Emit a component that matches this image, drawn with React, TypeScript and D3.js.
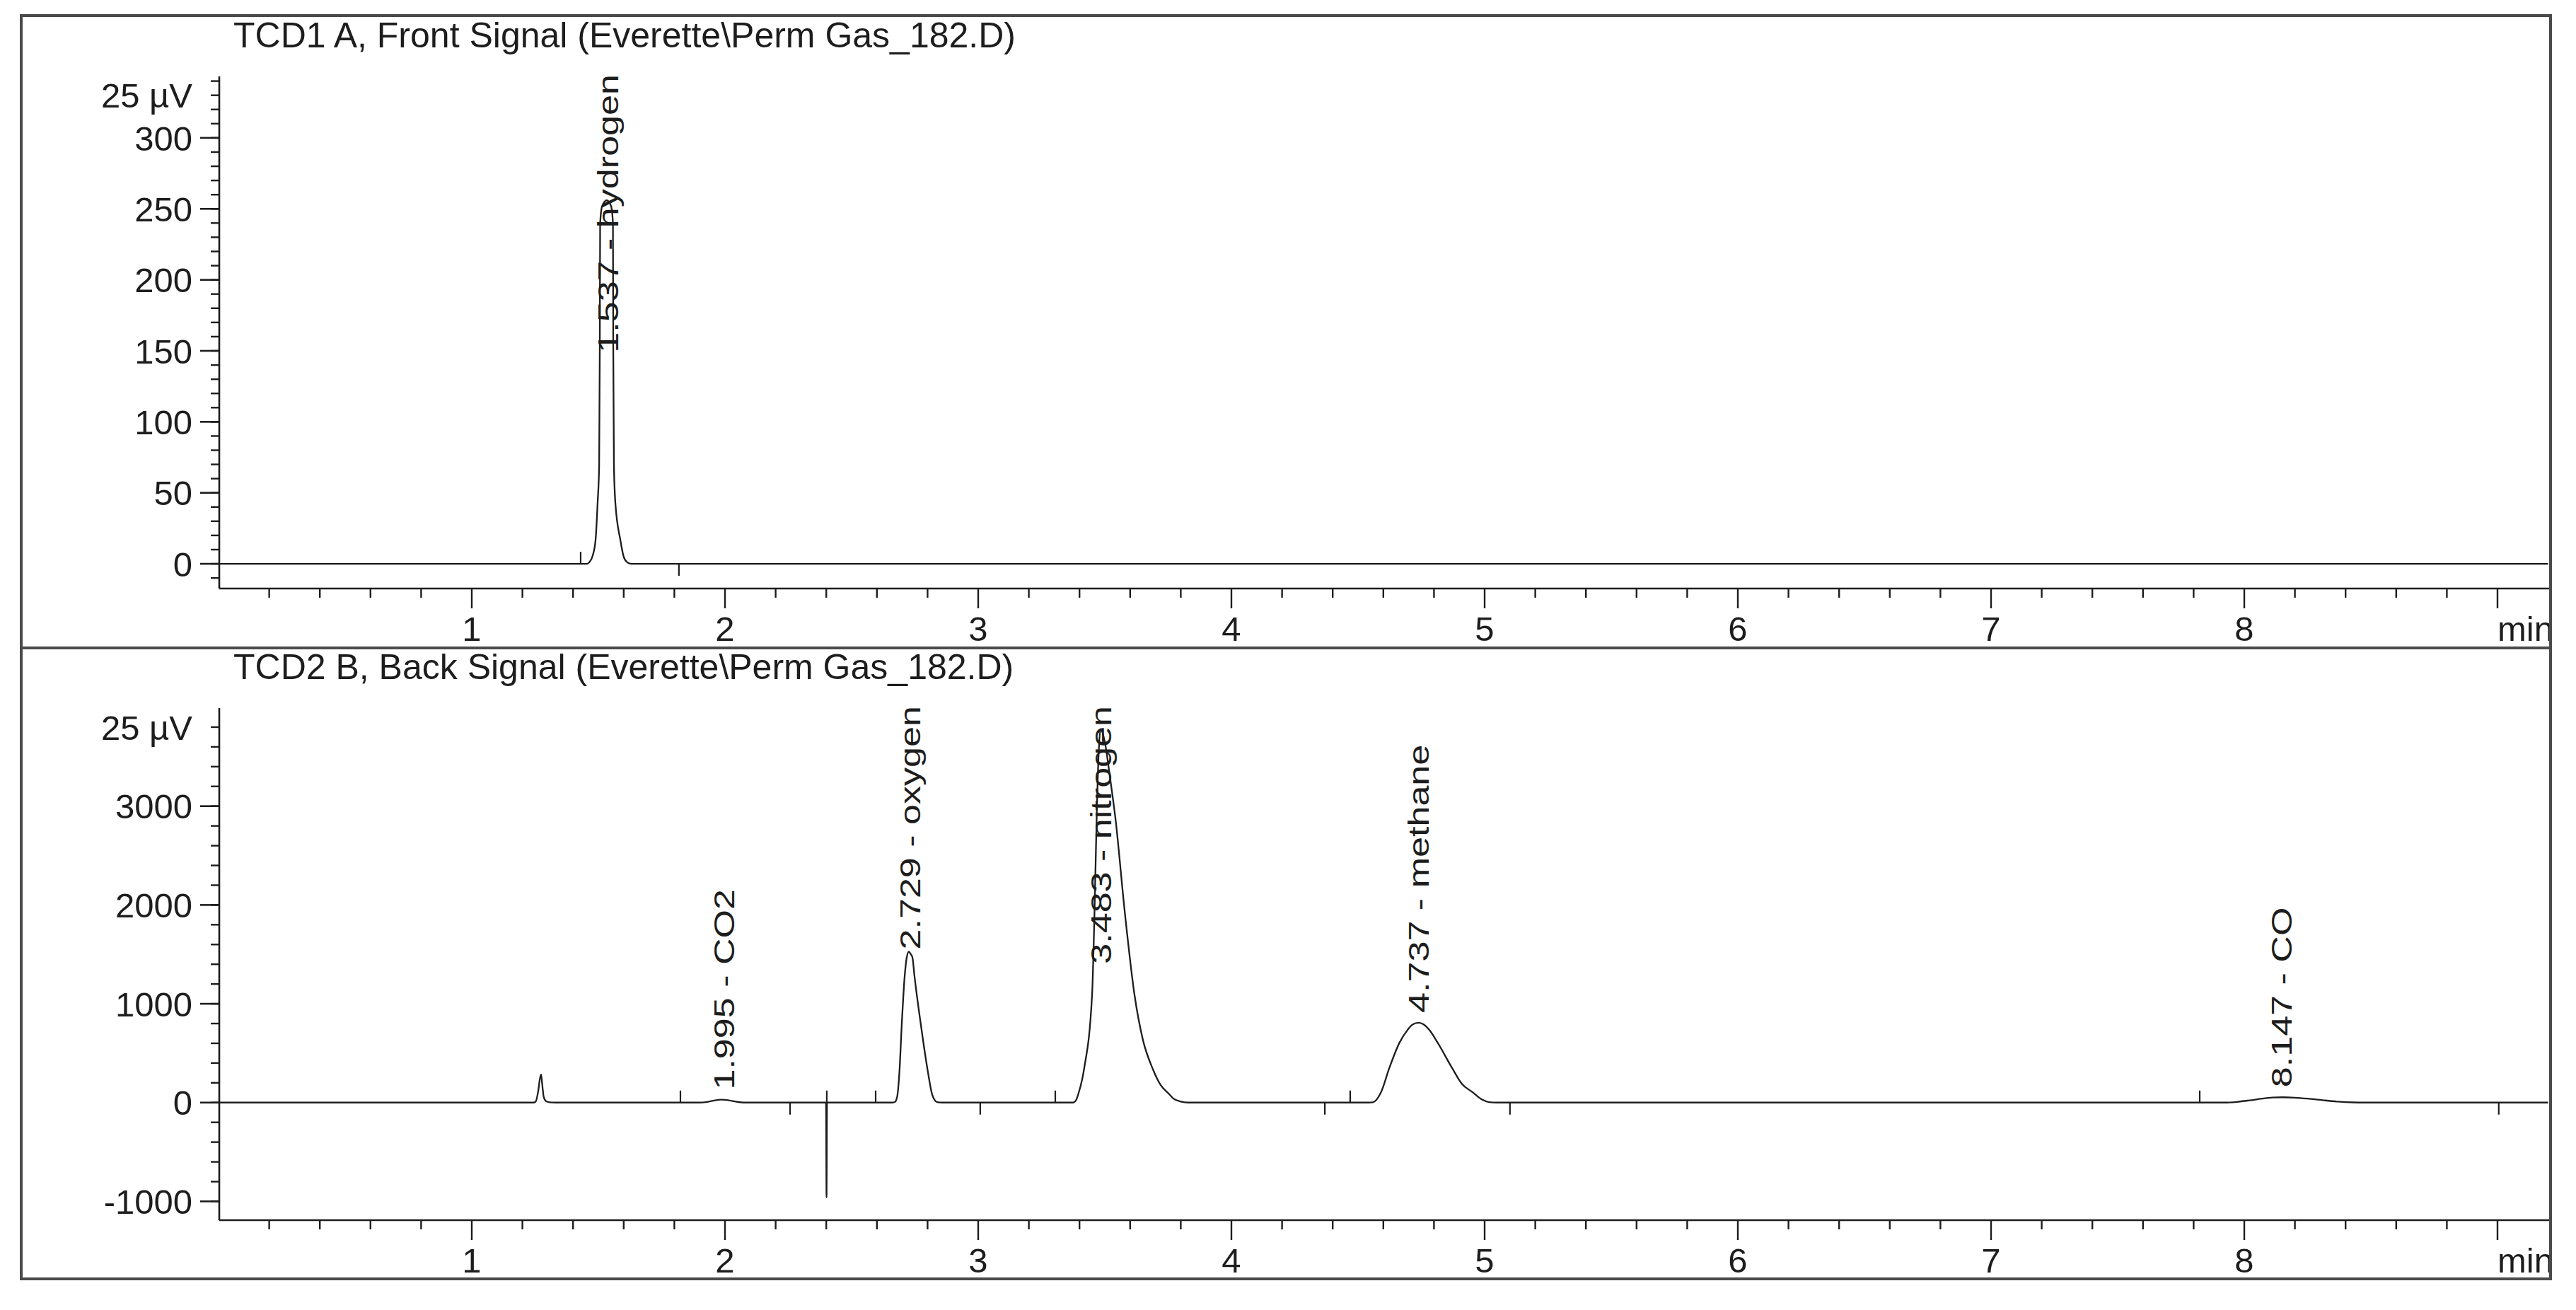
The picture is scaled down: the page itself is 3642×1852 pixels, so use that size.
import React, { useEffect, useRef } from 'react';
import * as d3 from 'd3';

// ---------- data ----------
const frontTitle = 'TCD1 A, Front Signal (Everette\\Perm Gas_182.D)';
const backTitle = 'TCD2 B, Back Signal (Everette\\Perm Gas_182.D)';
const unitLabel = '25 µV';
const timeUnit = 'min';
const timeLabels = [1, 2, 3, 4, 5, 6, 7, 8];

const frontYTicks = [0, 50, 100, 150, 200, 250, 300];
const frontUnitTickValue = 330;
const backYTicks = [-1000, 0, 1000, 2000, 3000];
const backUnitTickValue = 3800;

// time (min), signal
const frontTrace: [number, number][] = [
  [0, 0], [1.455, 0], [1.464, 1], [1.478, 6], [1.489, 17], [1.497, 43], [1.503, 69],
  [1.5056, 152], [1.507, 240], [1.515, 252], [1.533, 256], [1.55, 252],
  [1.5575, 240], [1.5587, 152], [1.5615, 69], [1.567, 43], [1.5866, 17],
  [1.6, 5], [1.6145, 1], [1.63, 0], [9.2, 0],
];

const backTrace: [number, number][] = [
  [0, 0], [1.245, 0], [1.252, 8], [1.262, 110], [1.269, 240], [1.2737, 285], [1.278, 190],
  [1.284, 60], [1.2933, 14], [1.307, 3], [1.33, 0],
  [1.895, 0], [1.93, 7], [1.96, 22], [1.986, 30], [2.015, 23], [2.045, 9], [2.078, 0],
  [2.399, 0], [2.401, -960], [2.403, 0],
  [2.662, 0], [2.6704, 5], [2.68, 60], [2.6891, 320], [2.6983, 800], [2.7095, 1275],
  [2.7179, 1470], [2.7263, 1527], [2.733, 1505], [2.7402, 1470], [2.7486, 1275],
  [2.7729, 800], [2.8008, 320], [2.8184, 80], [2.838, 5], [2.86, 0],
  [3.375, 0], [3.3855, 20], [3.3953, 86], [3.4179, 337], [3.4497, 1090], [3.46, 2000],
  [3.468, 2900], [3.476, 3550], [3.483, 3780], [3.5, 3650], [3.52, 3300], [3.542, 2875],
  [3.58, 1900], [3.6173, 1090], [3.65, 640], [3.69, 337], [3.72, 180], [3.7542, 86],
  [3.7709, 40], [3.8, 10], [3.83, 0],
  [4.54, 0], [4.5587, 3], [4.59, 100], [4.6243, 355], [4.6637, 606], [4.6955, 735],
  [4.715, 790], [4.7391, 808], [4.76, 790], [4.7816, 735], [4.8145, 606], [4.8704, 355],
  [4.91, 190], [4.9525, 105], [4.99, 30], [5.0168, 5], [5.05, 0],
  [7.92, 0], [7.97, 7], [8.02, 22], [8.07, 40], [8.11, 51], [8.151, 54], [8.2, 50],
  [8.25, 40], [8.31, 24], [8.37, 10], [8.43, 2], [8.47, 0], [9.2, 0],
];

const frontPeaks = [{ rt: 1.537, name: 'hydrogen' }];
const backPeaks = [
  { rt: 1.995, name: 'CO2' },
  { rt: 2.729, name: 'oxygen' },
  { rt: 3.483, name: 'nitrogen' },
  { rt: 4.737, name: 'methane' },
  { rt: 8.147, name: 'CO' },
];

// integration event marks: time, direction (1 up, -1 down)
const frontEvents = [{ t: 1.43, dir: 1 }, { t: 1.818, dir: -1 }];
const backEvents = [
  { t: 1.824, dir: 1 }, { t: 2.257, dir: -1 }, { t: 2.402, dir: 1 }, { t: 2.595, dir: 1 },
  { t: 3.008, dir: -1 }, { t: 3.3045, dir: 1 }, { t: 4.369, dir: -1 }, { t: 4.469, dir: 1 },
  { t: 5.1, dir: -1 }, { t: 7.824, dir: 1 }, { t: 9.005, dir: -1 },
];

const frontDomain: [number, number] = [-17.4, 343.3];
const backDomain: [number, number] = [-1190, 3993];

export default function App() {
  const ref = useRef<SVGSVGElement>(null);

  useEffect(() => {
    const W = 3642, H = 1852;
    const FONT = '"Liberation Sans", Arial, Helvetica, sans-serif';
    const ink = '#1d1d1d';
    const svg = d3.select(ref.current);
    svg.selectAll('*').remove();

    const frameL = 30, frameT = 22, frameR = 3606, frameB = 1808, sepY = 916;
    const axisX = 310;
    const x = d3.scaleLinear().domain([0, 9.2]).range([309, 309 + 9.2 * 358]);

    svg.append('rect').attr('width', W).attr('height', H).attr('fill', '#ffffff');
    const defs = svg.append('defs');
    defs.append('clipPath').attr('id', 'frameClip')
      .append('rect').attr('x', frameL).attr('y', frameT)
      .attr('width', frameR - frameL).attr('height', frameB - frameT);

    const panels = [
      {
        title: frontTitle, trace: frontTrace, peaks: frontPeaks, events: frontEvents,
        domain: frontDomain, major: frontYTicks, minors: d3.range(-10, 341, 10),
        unitTick: frontUnitTickValue, off: 0,
      },
      {
        title: backTitle, trace: backTrace, peaks: backPeaks, events: backEvents,
        domain: backDomain, major: backYTicks, minors: d3.range(-1000, 3801, 200),
        unitTick: backUnitTickValue, off: 893,
      },
    ];

    panels.forEach((p, i) => {
      const top = 108 + p.off;
      const axisY = 832 + p.off;
      const y = d3.scaleLinear().domain(p.domain).range([axisY, top]);
      const g = svg.append('g').attr('clip-path', 'url(#frameClip)');

      g.append('text').attr('x', 330).attr('y', 67 + p.off)
        .attr('font-family', FONT).attr('font-size', 50).attr('fill', ink)
        .text(p.title);

      // y axis
      g.append('line').attr('x1', axisX).attr('x2', axisX).attr('y1', top).attr('y2', axisY)
        .attr('stroke', ink).attr('stroke-width', 2.6);
      g.selectAll('line.ymin').data(p.minors).enter().append('line')
        .attr('x1', axisX - 12).attr('x2', axisX).attr('y1', d => y(d)).attr('y2', d => y(d))
        .attr('stroke', ink).attr('stroke-width', 2.4);
      g.selectAll('line.ymaj').data(p.major).enter().append('line')
        .attr('x1', axisX - 27).attr('x2', axisX).attr('y1', d => y(d)).attr('y2', d => y(d))
        .attr('stroke', ink).attr('stroke-width', 2.6);
      g.selectAll('text.ylab').data(p.major).enter().append('text')
        .attr('x', 272).attr('y', d => y(d)).attr('dy', '0.36em')
        .attr('text-anchor', 'end').attr('font-family', FONT).attr('font-size', 49)
        .attr('fill', ink).text(d => String(d));
      g.append('text').attr('x', 272).attr('y', y(p.unitTick)).attr('dy', '0.36em')
        .attr('text-anchor', 'end').attr('font-family', FONT).attr('font-size', 49)
        .attr('fill', ink).text(unitLabel);

      // x axis
      g.append('line').attr('x1', axisX).attr('x2', frameR).attr('y1', axisY).attr('y2', axisY)
        .attr('stroke', ink).attr('stroke-width', 2.6);
      const xt = d3.range(1, 46).map(k => ({ t: k / 5, major: k % 5 === 0 }));
      g.selectAll('line.xt').data(xt).enter().append('line')
        .attr('x1', d => x(d.t)).attr('x2', d => x(d.t))
        .attr('y1', axisY).attr('y2', d => axisY + (d.major ? 28 : 13))
        .attr('stroke', ink).attr('stroke-width', 2.4);
      g.selectAll('text.xl').data(timeLabels).enter().append('text')
        .attr('x', d => x(d)).attr('y', axisY + 74).attr('text-anchor', 'middle')
        .attr('font-family', FONT).attr('font-size', 49).attr('fill', ink).text(d => String(d));
      g.append('text').attr('x', x(9)).attr('y', axisY + 74)
        .attr('font-family', FONT).attr('font-size', 49).attr('fill', ink).text(timeUnit);

      // trace
      const clipId = `plotClip${i}`;
      defs.append('clipPath').attr('id', clipId).append('rect')
        .attr('x', axisX).attr('y', top - 4).attr('width', frameR - axisX).attr('height', axisY - top + 4);
      const line = d3.line<[number, number]>().x(d => x(d[0])).y(d => y(d[1])).curve(d3.curveMonotoneX);
      svg.append('path').attr('clip-path', `url(#${clipId})`).attr('d', line(p.trace) as string)
        .attr('fill', 'none').attr('stroke', ink).attr('stroke-width', 2.3).attr('stroke-linejoin', 'round');

      // event marks
      svg.selectAll(`line.ev${i}`).data(p.events).enter().append('line')
        .attr('x1', d => x(d.t)).attr('x2', d => x(d.t))
        .attr('y1', y(0)).attr('y2', d => y(0) - d.dir * 17)
        .attr('stroke', ink).attr('stroke-width', 2.2);

      // peak labels
      const sx = 1.27;
      p.peaks.forEach(pk => {
        const near = p.trace.filter(d => Math.abs(d[0] - pk.rt) < 0.06);
        const apexV = d3.max(near, d => d[1]) ?? 0;
        const apexY = y(apexV);
        const px = x(pk.rt);
        const t = svg.append('text')
          .attr('font-family', FONT).attr('font-size', 41).attr('fill', ink)
          .attr('dy', '0.36em').text(`${pk.rt.toFixed(3)} - ${pk.name}`);
        const len = (t.node() as SVGTextElement).getComputedTextLength() * sx;
        let startY = apexY - 14;
        if (startY - len < top - 3) startY = top - 3 + len;
        t.attr('transform', `translate(${px},${startY}) rotate(-90) scale(${sx},1)`);
      });
    });

    // page frame
    const fr = svg.append('g').attr('stroke', '#4a4a4a').attr('stroke-width', 4).attr('fill', 'none');
    fr.append('rect').attr('x', frameL).attr('y', frameT).attr('width', frameR - frameL).attr('height', frameB - frameT);
    fr.append('line').attr('x1', frameL).attr('x2', frameR).attr('y1', sepY).attr('y2', sepY);
  }, []);

  return (
    <svg
      ref={ref}
      width={3642}
      height={1852}
      style={{ position: 'absolute', left: 0, top: 0, display: 'block' }}
    />
  );
}
